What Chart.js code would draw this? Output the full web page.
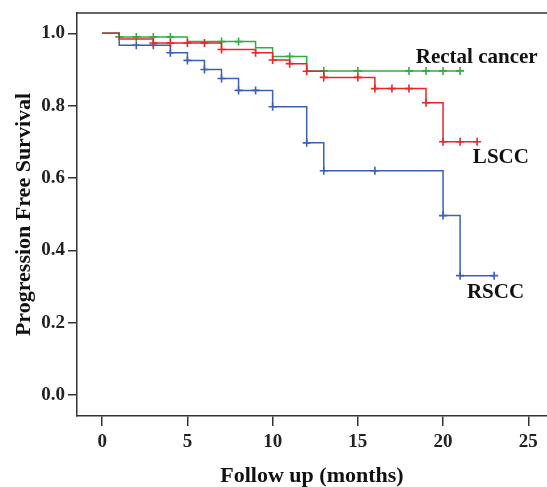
<!DOCTYPE html>
<html>
<head>
<meta charset="utf-8">
<script src="https://cdn.jsdelivr.net/npm/chart.js@4"></script>
<style>
  html, body { margin: 0; padding: 0; background: #fff; }
  #wrap { width: 547px; height: 487px; }
</style>
</head>
<body>
<div id="wrap"><canvas id="grafica" width="547" height="487"></canvas></div>
<script>
// Kaplan-Meier steps (time in months, survival after the drop)
const lsccTimes = [0, 1, 3, 7, 9, 10, 11, 12, 13, 16, 19, 20, 22];
const lsccSurv  = [1.0, 0.984, 0.973, 0.955, 0.946, 0.926, 0.916, 0.895, 0.878, 0.847, 0.808, 0.70, 0.70];
const lsccCensor = [3, 4, 5, 6, 7, 9, 10, 11, 12, 13, 15, 16, 17, 18, 19, 20, 21, 22];

const rectalTimes = [0, 1, 5, 9, 10, 12, 21];
const rectalSurv  = [1.0, 0.99, 0.977, 0.96, 0.936, 0.896, 0.896];
const rectalCensor = [1, 2, 3, 4, 7, 8, 11, 13, 15, 18, 19, 20, 21];

const rsccTimes = [0, 1, 4, 5, 6, 7, 8, 10, 12, 13, 20, 21, 23];
const rsccSurv  = [1.0, 0.967, 0.946, 0.925, 0.90, 0.875, 0.842, 0.797, 0.697, 0.62, 0.496, 0.33, 0.33];
const rsccCensor = [2, 3, 4, 5, 6, 7, 8, 9, 10, 12, 13, 16, 20, 21, 23];

const xTicks = [0, 5, 10, 15, 20, 25];
const yTicks = [0, 0.2, 0.4, 0.6, 0.8, 1.0];

// curve labels, in data units
const curveLabels = [
  { text: "Rectal cancer", x: 18.4, y: 0.934 },
  { text: "LSCC", x: 21.75, y: 0.655 },
  { text: "RSCC", x: 21.4, y: 0.282 }
];

const colores = {
  lscc: "#e8262c",
  rectal: "#2fae45",
  rscc: "#3d5fb4"
};

function pasos(times, surv) {
  return times.map((t, i) => ({ x: t, y: surv[i] }));
}

// censor mark sits on the curve level at that time
function censuras(censor, times, surv) {
  return censor.map(t => {
    let s = surv[0];
    for (let i = 0; i < times.length; i++) {
      if (times[i] <= t) s = surv[i];
    }
    return { x: t, y: s };
  });
}

function curva(times, surv, color) {
  return {
    type: "line",
    data: pasos(times, surv),
    borderColor: color,
    borderWidth: 1.5,
    stepped: true,
    pointRadius: 0,
    fill: false
  };
}

function marcas(censor, times, surv, color) {
  return {
    type: "scatter",
    data: censuras(censor, times, surv),
    borderColor: color,
    backgroundColor: color,
    pointStyle: "cross",
    pointRadius: 4,
    pointBorderWidth: 1.6
  };
}

const bordeSuperior = {
  id: "bordeSuperior",
  afterDraw(chart) {
    const { ctx, chartArea } = chart;
    ctx.save();
    ctx.strokeStyle = "#333";
    ctx.lineWidth = 1.5;
    ctx.beginPath();
    ctx.moveTo(chartArea.left, chartArea.top);
    ctx.lineTo(chart.width, chartArea.top);
    ctx.stroke();

    // curve labels
    ctx.fillStyle = "#111";
    ctx.font = "bold 21px 'Liberation Serif'";
    ctx.textAlign = "left";
    ctx.textBaseline = "middle";
    curveLabels.forEach(l => {
      ctx.fillText(l.text, chart.scales.x.getPixelForValue(l.x), chart.scales.y.getPixelForValue(l.y));
    });
    ctx.restore();
  }
};

const ctx = document.getElementById("grafica").getContext("2d");
new Chart(ctx, {
  data: {
    datasets: [
      curva(lsccTimes, lsccSurv, colores.lscc),
      marcas(lsccCensor, lsccTimes, lsccSurv, colores.lscc),
      curva(rectalTimes, rectalSurv, colores.rectal),
      marcas(rectalCensor, rectalTimes, rectalSurv, colores.rectal),
      curva(rsccTimes, rsccSurv, colores.rscc),
      marcas(rsccCensor, rsccTimes, rsccSurv, colores.rscc)
    ]
  },
  options: {
    responsive: false,
    animation: false,
    layout: { autoPadding: false, padding: { top: 13, right: 0, bottom: 0, left: 0 } },
    plugins: {
      legend: { display: false },
      tooltip: { enabled: false }
    },
    scales: {
      x: {
        type: "linear",
        position: "bottom",
        min: -1.48,
        max: 26.1,
        afterFit: s => { s.height = 71; s.paddingLeft = 0; s.paddingRight = 0; },
        afterBuildTicks: s => { s.ticks = xTicks.map(v => ({ value: v })); },
        grid: { display: true, drawOnChartArea: false, drawTicks: true, tickLength: 10, color: "#333", lineWidth: 1.5 },
        border: { display: true, color: "#333", width: 1.5 },
        ticks: {
          color: "#222",
          padding: 5,
          maxRotation: 0,
          font: { family: "'Liberation Serif'", size: 19, weight: "bold" }
        },
        title: {
          display: true,
          text: "Follow up (months)",
          color: "#111",
          padding: { top: 0, bottom: 0 },
          font: { family: "'Liberation Serif'", size: 22, weight: "bold", lineHeight: 1 }
        }
      },
      y: {
        type: "linear",
        position: "left",
        min: -0.058,
        max: 1.056,
        afterFit: s => { s.width = 77; s.paddingTop = 0; s.paddingBottom = 0; },
        afterBuildTicks: s => { s.ticks = yTicks.map(v => ({ value: v })); },
        grid: { display: true, drawOnChartArea: false, drawTicks: true, tickLength: 9, color: "#333", lineWidth: 1.5 },
        border: { display: true, color: "#333", width: 1.5 },
        ticks: {
          color: "#222",
          padding: 3,
          callback: v => v.toFixed(1),
          font: { family: "'Liberation Serif'", size: 19, weight: "bold" }
        },
        title: {
          display: true,
          text: "Progression Free Survival",
          color: "#111",
          padding: { top: 13, bottom: 0 },
          font: { family: "'Liberation Serif'", size: 22, weight: "bold", lineHeight: 1 }
        }
      }
    }
  },
  plugins: [bordeSuperior]
});
</script>
</body>
</html>
